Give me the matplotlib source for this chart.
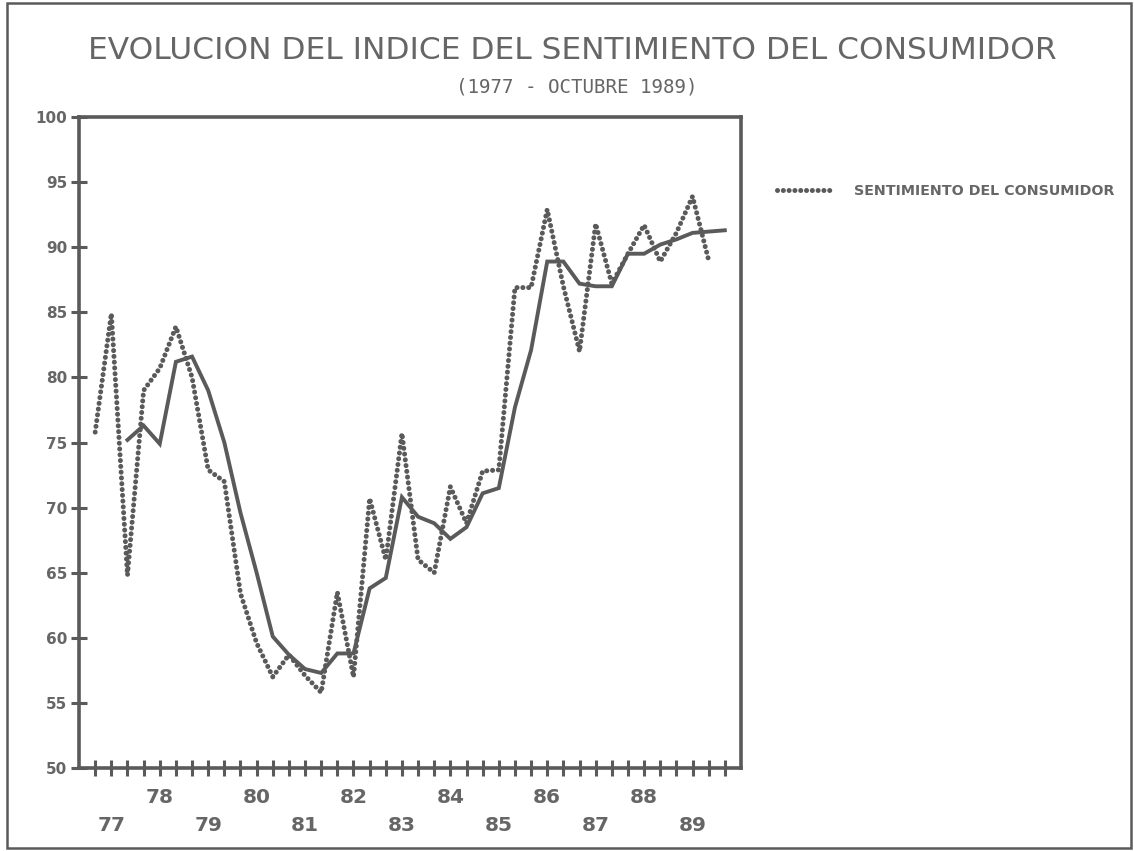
import matplotlib
matplotlib.use("Agg")
import matplotlib.pyplot as plt
from matplotlib.patches import Rectangle

# periods: 3 per year (cuatrimestres), 1977 .. oct 1989
years = ["77", "78", "79", "80", "81", "82", "83", "84", "85", "86", "87", "88", "89"]

sentimiento = [75.8, 84.9, 64.8, 79.0, 80.7, 83.9, 80.0, 72.9, 72.0, 63.4,
               59.6, 57.0, 58.7, 57.1, 55.8, 63.5, 57.0, 70.7, 66.0, 75.7,
               66.0, 65.0, 71.6, 68.8, 72.8, 72.9, 86.9, 86.9, 92.9, 87.0,
               82.0, 91.8, 87.2, 89.5, 91.7, 88.9, 91.1, 93.9, 89.0]

# tendencia (linea continua), empieza en el tercer periodo
tendencia = [75.2, 76.3, 74.9, 81.2, 81.6, 79.0, 75.0, 69.6, 65.0, 60.1,
             58.7, 57.6, 57.3, 58.8, 58.8, 63.8, 64.6, 70.8, 69.3, 68.8,
             67.6, 68.5, 71.1, 71.5, 77.7, 82.1, 88.9, 88.9, 87.2, 87.0,
             87.0, 89.5, 89.5, 90.2, 90.6, 91.1, 91.2, 91.3]

gris = "#5a5a5a"
gris_txt = "#666666"

fig = plt.figure(figsize=(11.34, 8.51), dpi=100)
ax = fig.add_axes([0.0697, 0.0975, 0.5837, 0.765])

x_sent = list(range(len(sentimiento)))
x_tend = list(range(2, 2 + len(tendencia)))

ax.plot(x_sent, sentimiento, color=gris, lw=3.6, linestyle=(0, (0.01, 1.15)),
        dash_capstyle="round", label="SENTIMIENTO DEL CONSUMIDOR")
ax.plot(x_tend, tendencia, color=gris, lw=2.8, solid_joinstyle="miter")

ax.set_xlim(-1, 40)
ax.set_ylim(50, 100)
ax.set_yticks(range(50, 101, 5))
ax.set_yticklabels([str(v) for v in range(50, 101, 5)], fontsize=11,
                   fontweight="bold", color=gris_txt)

# one tick per period, year labels alternate in two rows
n_ticks = 40
labels = [""] * n_ticks
for i, y in enumerate(years):
    k = 1 + 3 * i
    labels[k] = y if int(y) % 2 == 0 else "\n" + y
ax.set_xticks(range(n_ticks))
ax.set_xticklabels(labels, fontsize=14.5, fontweight="bold", color=gris_txt,
                   linespacing=1.6)

ax.tick_params(axis="both", direction="inout", color=gris, width=2.2)
ax.tick_params(axis="y", length=11, pad=3)
ax.tick_params(axis="x", length=11, pad=9)

for s in ax.spines.values():
    s.set_color(gris)
    s.set_linewidth(2.6)

fig.text(0.505, 0.941, "EVOLUCION DEL INDICE DEL SENTIMIENTO DEL CONSUMIDOR",
         ha="center", va="center", fontsize=22.5, color=gris_txt)
fig.text(0.509, 0.898, "(1977 - OCTUBRE 1989)", ha="center", va="center",
         fontsize=13.8, color=gris_txt, family="DejaVu Sans Mono")

leg = ax.legend(loc="center left", bbox_to_anchor=(0.674, 0.775),
                bbox_transform=fig.transFigure, frameon=False,
                handlelength=4.0, handletextpad=1.4,
                prop={"size": 10.3, "weight": "bold"})
for t in leg.get_texts():
    t.set_color(gris_txt)

# marco exterior del grafico
fig.patches.append(Rectangle((0.006, 0.004), 0.991, 0.993, transform=fig.transFigure,
                             fill=False, edgecolor=gris, lw=1.8))

fig.savefig("out.png", dpi=100, facecolor="white")
